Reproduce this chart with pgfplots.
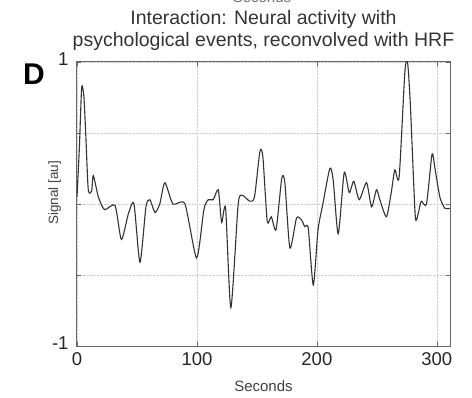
\documentclass[border=0pt]{standalone}
\usepackage{fontspec}
\setmainfont{Liberation Sans}
\usepackage{pgfplots}
\pgfplotsset{compat=1.18}
\begin{document}
\begin{tikzpicture}[x=1pt,y=1pt]
\useasboundingbox (-77,-51) rectangle (395,346);
\begin{axis}[
 at={(0,0)}, anchor=south west,
 scale only axis, width=373pt, height=284pt,
 xmin=0, xmax=311, ymin=-1, ymax=1,
 xtick={0,100,200,300}, ytick={-1,-0.5,0,0.5,1},
 yticklabels={-1,{},{},{},1},
 grid=major, grid style={densely dotted, gray!40, line width=0.5pt},
 axis line style={black!60, line width=1pt},
 tick style={black!60, line width=0.6pt}, major tick length=4pt, tick align=inside,
 ticklabel style={font=\fontsize{18.5}{20}\selectfont, text=black!85},
 xticklabel style={yshift=-3pt},
 yticklabel style={yshift=3pt, xshift=-5pt},
 /pgf/number format/assume math mode=true,
 xlabel={Seconds},
 xlabel style={font=\fontsize{15}{17}\selectfont, text=black!75, at={(axis description cs:0.5,-0.141)}, anchor=center},
 ylabel={Signal [au]},
 ylabel style={font=\fontsize{13.5}{16}\selectfont, text=black!75, at={(axis description cs:-0.060,0.539)}, anchor=center},
 title={Interaction: Neural activity with\\psychological events, reconvolved with HRF},
 title style={align=center, font=\fontsize{19.5}{22}\selectfont, text=black!80, at={(axis description cs:0.5,1)}, anchor=south, yshift=2pt},
]
\addplot[black!80, line width=1.1pt, smooth, tension=0.4] coordinates {
(0,0.05) (2,0.4) (3.9,0.82) (5.8,0.75) (7.5,0.45) (9.4,0.1) (12.2,0.09) (13.6,0.2)
(17.8,0.05) (23,-0.04) (31.7,-0.01) (37,-0.25) (42.8,-0.07) (47.5,0.0) (52.5,-0.41)
(57.5,-0.02) (60.8,0.03) (65,-0.06) (69,0.0) (73.3,0.15) (80,0.0) (90,0.0)
(99.7,-0.38) (105.8,-0.04) (109.4,0.03) (113.6,0.03) (117.8,0.1) (120.6,-0.13)
(123.9,-0.03) (128.3,-0.73) (134.4,0.0) (138,0.06) (144,0.02) (148,0.05)
(152.5,0.37) (155,0.33) (158.6,-0.12) (162,-0.09) (166,-0.18) (170.7,0.18)
(173.3,0.15) (177.5,-0.31) (183,-0.1) (187,-0.11) (190,-0.16) (192.8,-0.17)
(197,-0.57) (201,-0.18) (205,0.0) (210.8,0.25) (213.6,0.17) (217.8,-0.21)
(222.8,0.22) (227,0.08) (230.8,0.16) (235.3,0.03) (241.4,0.15) (245.6,-0.02)
(249.7,0.1) (252.5,0.03) (258,-0.09) (262,0.08) (265,0.24) (268.6,0.19)
(273.3,0.92) (275.6,1.0) (278,0.69) (282,-0.08) (284.4,-0.07) (287,0.02)
(291.4,0.0) (296,0.35) (298.3,0.26) (302.5,0.05) (306.7,-0.03) (310.8,-0.03)
};
\end{axis}
\node[font=\bfseries\fontsize{30}{30}\selectfont] at (-43,272) {D};
\node[font=\fontsize{15}{17}\selectfont, text=black!55, anchor=base] at (185,343) {Seconds};
\end{tikzpicture}
\end{document}
